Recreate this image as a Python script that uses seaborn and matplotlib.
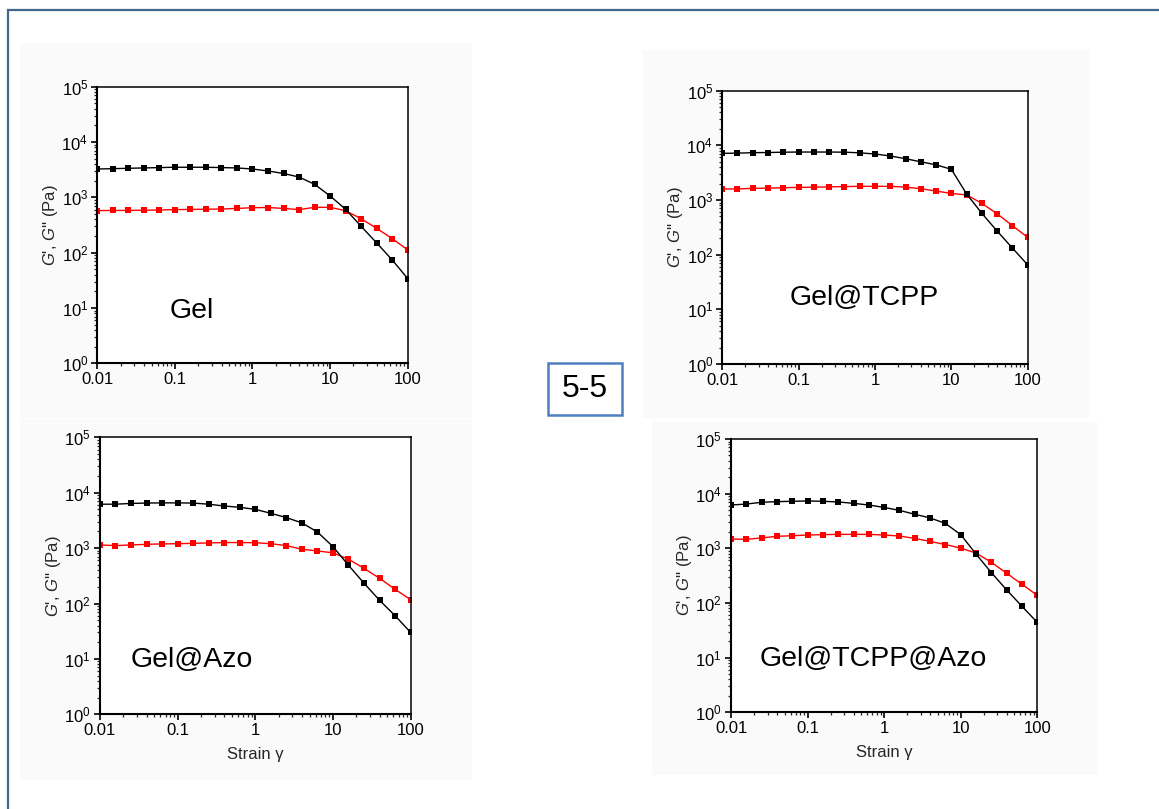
import numpy as np
import pandas as pd
import matplotlib
matplotlib.use("Agg")
import matplotlib.pyplot as plt
from matplotlib.patches import Rectangle
from matplotlib.ticker import LogLocator, LogFormatterMathtext, NullFormatter, FixedLocator, FixedFormatter
import seaborn as sns

# ---------------- data ----------------
strain = [0.01, 0.0158, 0.0251, 0.0398, 0.0631, 0.1, 0.158, 0.251, 0.398, 0.631,
          1.0, 1.58, 2.51, 3.98, 6.31, 10.0, 15.8, 25.1, 39.8, 63.1, 100.0]

gel_Gp = [3250, 3300, 3350, 3400, 3450, 3500, 3500, 3500, 3450, 3400,
          3250, 3000, 2700, 2330, 1720, 1060, 610, 300, 150, 74, 34]
gel_Gpp = [575, 580, 580, 585, 590, 600, 605, 610, 615, 630,
           650, 655, 630, 600, 660, 660, 575, 410, 275, 180, 112]

tcpp_Gp = [7150, 7200, 7350, 7400, 7500, 7550, 7550, 7550, 7500, 7300,
           6950, 6400, 5700, 5000, 4400, 3650, 1300, 570, 270, 132, 65]
tcpp_Gpp = [1590, 1600, 1630, 1650, 1680, 1700, 1720, 1740, 1760, 1780,
            1780, 1780, 1720, 1610, 1460, 1320, 1240, 870, 560, 340, 207]

azo_Gp = [6200, 6200, 6400, 6500, 6550, 6550, 6500, 6200, 5750, 5450,
          5000, 4250, 3550, 2850, 1950, 1060, 490, 232, 114, 60, 30]
azo_Gpp = [1140, 1110, 1140, 1170, 1190, 1200, 1220, 1240, 1260, 1260,
           1250, 1200, 1110, 950, 890, 820, 630, 430, 285, 180, 117]

tcppazo_Gp = [6200, 6450, 6950, 7150, 7250, 7350, 7250, 7050, 6650, 6200,
              5600, 4950, 4200, 3600, 2850, 1780, 790, 360, 173, 87, 44]
tcppazo_Gpp = [1480, 1460, 1550, 1660, 1700, 1750, 1780, 1800, 1800, 1800,
               1750, 1680, 1520, 1340, 1170, 1010, 820, 555, 350, 220, 138]

panel_names = ["Gel", "Gel@TCPP", "Gel@Azo", "Gel@TCPP@Azo"]
x_ticks = [0.01, 0.1, 1, 10, 100]
x_ticklabels = ["0.01", "0.1", "1", "10", "100"]
y_label = "$\\mathit{G}$', $\\mathit{G}$'' (Pa)"
x_label = "Strain \u03b3"
badge = "5-5"

# ---------------- style ----------------
sns.set_theme(style="ticks")
plt.rcParams["font.family"] = ["Liberation Sans", "DejaVu Sans"]
plt.rcParams["mathtext.fontset"] = "custom"
plt.rcParams["mathtext.rm"] = "Liberation Sans"
plt.rcParams["mathtext.it"] = "Liberation Sans:italic"
plt.rcParams["mathtext.default"] = "regular"

W, H = 1159, 809
fig = plt.figure(figsize=(W / 100, H / 100), dpi=100)
fig.patch.set_facecolor("white")

def px(x0, y0, x1, y1):
    return [x0 / W, 1 - y1 / H, (x1 - x0) / W, (y1 - y0) / H]

# very light grey panel backgrounds
for (x0, y0, x1, y1) in [(20, 43, 472, 418), (643, 50, 1090, 418),
                         (20, 419, 472, 780), (652, 422, 1098, 775)]:
    fig.patches.append(Rectangle((x0 / W, 1 - y1 / H), (x1 - x0) / W, (y1 - y0) / H,
                                 transform=fig.transFigure, facecolor="#fafafa",
                                 edgecolor="none", zorder=-3))

# outer blue frame (extends past right and bottom edges)
fig.patches.append(Rectangle((7.5 / W, -0.1), 1.2, 1 - 9.5 / H + 0.1,
                             transform=fig.transFigure, facecolor="none",
                             edgecolor="#41678f", linewidth=1.6, zorder=-2))

axes_boxes = [px(97.3, 86.7, 407.7, 363.3),
              px(722.3, 90.7, 1027.7, 364.0),
              px(100.0, 437.3, 410.7, 714.3),
              px(731.0, 439.0, 1037.3, 712.3)]
series = [(gel_Gp, gel_Gpp), (tcpp_Gp, tcpp_Gpp),
          (azo_Gp, azo_Gpp), (tcppazo_Gp, tcppazo_Gpp)]
label_pos = [(0.234, 0.189, "left"), (0.465, 0.241, "center"),
             (0.099, 0.196, "left"), (0.095, 0.194, "left")]

for i, (box, (gp, gpp), name, lp) in enumerate(zip(axes_boxes, series, panel_names, label_pos)):
    ax = fig.add_axes(box)
    ax.set_zorder(3)
    ax.set_facecolor("white")
    df = pd.DataFrame({"strain": strain, "Gp": gp, "Gpp": gpp})
    sns.lineplot(data=df, x="strain", y="Gp", ax=ax, color="black", marker="s",
                 markersize=5, markeredgewidth=0, linewidth=1.0, zorder=3)
    sns.lineplot(data=df, x="strain", y="Gpp", ax=ax, color="#ff0000", marker="s",
                 markersize=5, markeredgewidth=0, linewidth=1.0, zorder=2)
    ax.set_xscale("log")
    ax.set_yscale("log")
    ax.set_xlim(0.01, 100)
    ax.set_ylim(1, 1e5)
    ax.xaxis.set_major_locator(FixedLocator(x_ticks))
    ax.xaxis.set_major_formatter(FixedFormatter(x_ticklabels))
    ax.xaxis.set_minor_locator(LogLocator(base=10, subs=np.arange(2, 10), numticks=20))
    ax.xaxis.set_minor_formatter(NullFormatter())
    ax.yaxis.set_major_locator(LogLocator(base=10, numticks=10))
    ax.yaxis.set_major_formatter(LogFormatterMathtext())
    ax.yaxis.set_minor_locator(LogLocator(base=10, subs=np.arange(2, 10), numticks=20))
    ax.yaxis.set_minor_formatter(NullFormatter())
    ax.tick_params(which="major", direction="out", length=4.5, width=1.2,
                   labelsize=12, colors="black", pad=2, top=False, right=False)
    ax.tick_params(which="minor", direction="out", length=2.5, width=0.9,
                   top=False, right=False)
    for s in ["left", "bottom"]:
        ax.spines[s].set_linewidth(1.5)
    for s in ["top", "right"]:
        ax.spines[s].set_linewidth(1.1)
    for s in ax.spines.values():
        s.set_color("black")
        s.set_visible(True)
    ax.set_ylabel(y_label, fontsize=12, labelpad=1)
    if i >= 2:
        ax.set_xlabel(x_label, fontsize=12, labelpad=6)
    else:
        ax.set_xlabel("")
    ax.text(lp[0], lp[1], name, transform=ax.transAxes, fontsize=20.5,
            ha=lp[2], va="center", color="black")

# central "5-5" badge
bx0, by0, bx1, by1 = 548, 363, 622, 415
fig.patches.append(Rectangle((bx0 / W, 1 - by1 / H), (bx1 - bx0) / W, (by1 - by0) / H,
                             transform=fig.transFigure, facecolor="white",
                             edgecolor="#4f7fc0", linewidth=1.8, zorder=5))
fig.text((bx0 + bx1) / 2 / W, 1 - (by0 + by1) / 2 / H, badge, fontsize=23,
         ha="center", va="center", color="black", zorder=6)

fig.savefig("out.png", dpi=100)
